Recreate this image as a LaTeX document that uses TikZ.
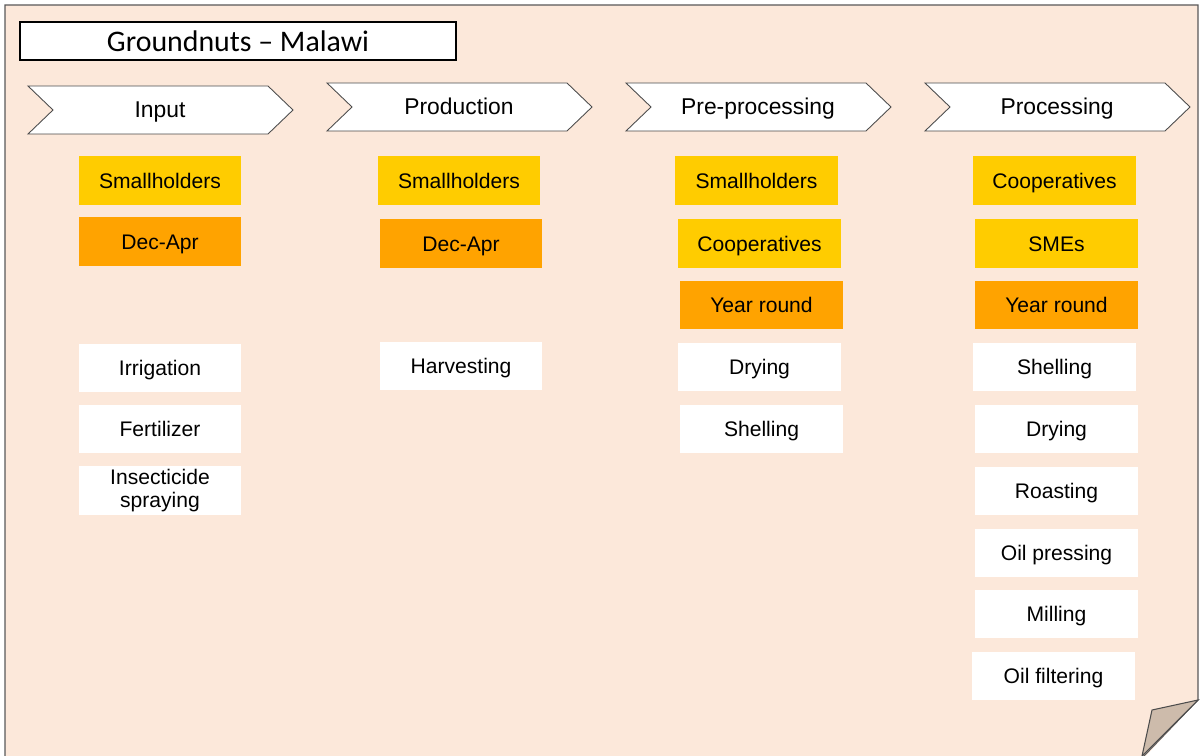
\documentclass[tikz,border=0pt]{standalone}
\usepackage{fontspec}
\setmainfont{Liberation Sans}
\newfontfamily\titlefont{Carlito}

\definecolor{pagebg}{HTML}{FCE8DA}
\definecolor{foldbg}{HTML}{CDBBAB}
\definecolor{actoryellow}{HTML}{FFCC00}
\definecolor{seasonorange}{HTML}{FFA300}

\tikzset{
  cell/.style={rectangle, minimum width=3.26cm, minimum height=0.97cm, inner sep=0pt,
    align=center, font=\fontsize{12}{13.5}\selectfont, text height=8.6pt, text depth=0pt},
  actor/.style={cell, fill=actoryellow},
  season/.style={cell, fill=seasonorange},
  activity/.style={cell, fill=white},
  twoline/.style={text height=, text depth=},
  stage/.style={draw=black!70, fill=white, line width=0.5pt},
  stagetext/.style={font=\fontsize{13}{15}\selectfont, inner sep=0pt, anchor=base}
}

\begin{document}
\begin{tikzpicture}[x=0.02cm, y=-0.02cm]
        \useasboundingbox (0,0) rectangle (1203,756);

        % draw page with folded corner
        \fill[pagebg] (5,760) -- (5,5) -- (1198,5) -- (1198,700) -- (1142,760) -- cycle;
        \draw[black!65, line width=0.6pt] (5,760) -- (5,5) -- (1198,5) -- (1198,700) -- (1142,758);
        \draw[black!70, fill=foldbg, line width=0.6pt] (1198,700) -- (1152,710) -- (1142,756) -- cycle;

        % draw title
        \node[draw=black, line width=1.1pt, fill=white, minimum width=8.72cm, minimum height=0.76cm,
              font=\titlefont\fontsize{17}{19}\selectfont] (title) at (238,41) {Groundnuts – Malawi};

        % draw stages
        \foreach \x/\y/\name/\label in {28/86/input/Input, 327/83/prod/Production,
                                         626/83/pre/Pre-processing, 925/83/proc/Processing} {
            \draw[stage] (\x,\y) -- ++(240,0) -- ++(25,24) -- ++(-25,24) -- ++(-240,0) -- ++(25,-24) -- cycle;
            \node[stagetext] (\name) at (\x+132,\y+32) {\label};
        }

        % draw input column
        \node[actor]    (inSmall)  at (160,180.5) {Smallholders};
        \node[season]   (inSeason) at (160,241.5) {Dec-Apr};
        \node[activity] (inIrr)    at (160,368)   {Irrigation};
        \node[activity] (inFert)   at (160,429)   {Fertilizer};
        \node[activity, twoline] (inSpray) at (160,490.5) {Insecticide\\spraying};

        % draw production column
        \node[actor]    (prodSmall)  at (459,180.5) {Smallholders};
        \node[season]   (prodSeason) at (461,243.5) {Dec-Apr};
        \node[activity] (prodHarv)   at (461,366)   {Harvesting};

        % draw pre-processing column
        \node[actor]    (preSmall)  at (756.5,180.5) {Smallholders};
        \node[actor]    (preCoop)   at (759.5,243.5) {Cooperatives};
        \node[season]   (preSeason) at (761.5,305)   {Year round};
        \node[activity] (preDry)    at (759.5,367)   {Drying};
        \node[activity] (preShell)  at (761.5,429)   {Shelling};

        % draw processing column
        \node[actor]    (procCoop)   at (1054.5,180.5) {Cooperatives};
        \node[actor]    (procSme)    at (1056.5,243.5) {SMEs};
        \node[season]   (procSeason) at (1056.5,305)   {Year round};
        \node[activity] (procShell)  at (1054.5,367)   {Shelling};
        \node[activity] (procDry)    at (1056.5,429)   {Drying};
        \node[activity] (procRoast)  at (1056.5,491)   {Roasting};
        \node[activity] (procPress)  at (1056.5,553)   {Oil pressing};
        \node[activity] (procMill)   at (1056.5,614)   {Milling};
        \node[activity] (procFilter) at (1053.5,676)   {Oil filtering};
\end{tikzpicture}
\end{document}
